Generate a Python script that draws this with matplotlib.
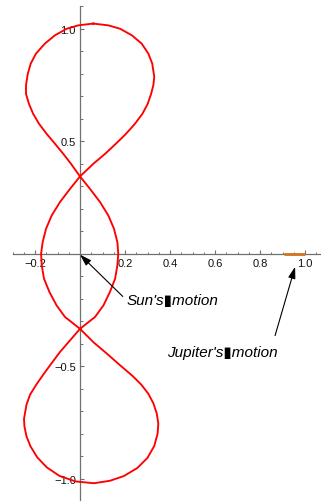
import matplotlib
matplotlib.use("Agg")
import matplotlib.pyplot as plt

# Sun's motion curve, one closed path
curve_x = [0.059, 0.126, 0.178, 0.230, 0.274, 0.304, 0.321, 0.330, 0.326, 0.316, 0.301, 0.277, 0.244,
           0.204, 0.159, 0.111, 0.059, 0.0,
           -0.044, -0.089, -0.126, -0.151, -0.166, -0.173, -0.170, -0.160, -0.136, -0.104, -0.067, 0.0,
           0.059, 0.119, 0.178, 0.235, 0.272, 0.303, 0.326, 0.341, 0.348, 0.345, 0.330, 0.300, 0.255,
           0.195, 0.133, 0.062, -0.020, -0.092, -0.148, -0.190, -0.220, -0.238, -0.247, -0.249,
           -0.238, -0.222, -0.196, -0.165, -0.133, -0.089, -0.044, 0.0,
           0.067, 0.104, 0.133, 0.156, 0.166, 0.170, 0.166, 0.151, 0.126, 0.089, 0.044, 0.0,
           -0.040, -0.074, -0.111, -0.148, -0.182, -0.208, -0.227, -0.240, -0.240, -0.232, -0.219,
           -0.196, -0.156, -0.111, -0.059, -0.008, 0.059]
curve_y = [1.024, 1.016, 1.001, 0.972, 0.935, 0.890, 0.846, 0.787, 0.750, 0.711, 0.667, 0.622, 0.578,
           0.533, 0.489, 0.444, 0.400, 0.344,
           0.289, 0.230, 0.170, 0.111, 0.052, 0.0, -0.052, -0.111, -0.170, -0.230, -0.281, -0.334,
           -0.393, -0.444, -0.496, -0.545, -0.582, -0.622, -0.665, -0.710, -0.756, -0.800, -0.855, -0.908, -0.953,
           -0.989, -1.010, -1.021, -1.013, -0.988, -0.950, -0.906, -0.857, -0.812, -0.768, -0.735,
           -0.672, -0.627, -0.585, -0.540, -0.496, -0.437, -0.385, -0.334,
           -0.281, -0.230, -0.170, -0.111, -0.052, 0.0, 0.052, 0.111, 0.170, 0.230, 0.289, 0.344,
           0.400, 0.444, 0.489, 0.533, 0.578, 0.622, 0.667, 0.711, 0.750, 0.801, 0.846,
           0.890, 0.935, 0.972, 1.001, 1.016, 1.024]

# Jupiter's motion segment
jup_x = [0.905, 1.0]
jup_y = [0.0, 0.0]

x_major = [-0.2, 0.2, 0.4, 0.6, 0.8, 1.0]
x_major_labels = ["\u22120.2", "0.2", "0.4", "0.6", "0.8", "1.0"]
x_minor = [-0.3, -0.25, -0.15, -0.1, -0.05, 0.05, 0.1, 0.15, 0.25, 0.3, 0.35, 0.45, 0.5, 0.55,
           0.65, 0.7, 0.75, 0.85, 0.9, 0.95, 1.05]
y_major = [-1.0, -0.5, 0.5, 1.0]
y_major_labels = ["\u22121.0", "\u22120.5", "0.5", "1.0"]
y_minor = [-1.1, -0.9, -0.8, -0.7, -0.6, -0.4, -0.3, -0.2, -0.1, 0.1, 0.2, 0.3, 0.4,
           0.6, 0.7, 0.8, 0.9, 1.1]

sun_label = "Sun's\u25aemotion"
jup_label = "Jupiter's\u25aemotion"

plt.rcParams['font.family'] = ['Liberation Sans', 'DejaVu Sans']

fig = plt.figure(figsize=(3.21, 5.02), dpi=100)
ax = fig.add_axes([0, 0, 1, 1])
ax.set_xlim(-0.3556, 1.0711)
ax.set_ylim(-1.0978, 1.1333)
ax.patch.set_alpha(0)

axis_color = '#707070'
for s in ['top', 'right']:
    ax.spines[s].set_visible(False)
ax.spines['left'].set_position(('data', 0))
ax.spines['bottom'].set_position(('data', 0))
ax.spines['left'].set_bounds(-1.1, 1.1)
ax.spines['bottom'].set_bounds(-0.3, 1.08)
for s in ['left', 'bottom']:
    ax.spines[s].set_color(axis_color)
    ax.spines[s].set_linewidth(0.9)

ax.set_xticks(x_major)
ax.set_xticklabels(x_major_labels)
ax.set_xticks(x_minor, minor=True)
ax.set_yticks(y_major)
ax.set_yticklabels(y_major_labels)
ax.set_yticks(y_minor, minor=True)
ax.tick_params(which='major', direction='in', length=3.2, width=0.8, color=axis_color,
               labelsize=8, pad=3, labelcolor='#111111')
ax.tick_params(which='minor', direction='in', length=1.8, width=0.7, color=axis_color)

ax.plot(curve_x, curve_y, color='#ff0000', lw=1.35, solid_joinstyle='round', zorder=3)
ax.plot(jup_x, jup_y, color='#d2731e', lw=2.0, solid_capstyle='butt', zorder=4)

arrow_props = dict(arrowstyle='-|>,head_length=0.7,head_width=0.22', color='black', lw=0.8,
                   shrinkA=0, shrinkB=0)
ax.annotate('', xy=(0.0, -0.004), xytext=(0.19, -0.19), arrowprops=arrow_props, zorder=5)
ax.annotate('', xy=(0.956, -0.058), xytext=(0.867, -0.364), arrowprops=arrow_props, zorder=5)

ax.text(0.209, -0.205, sun_label, fontsize=11, style='italic', ha='left', va='center')
ax.text(0.387, -0.436, jup_label, fontsize=11, style='italic', ha='left', va='center')

fig.savefig('out.png', dpi=100)
